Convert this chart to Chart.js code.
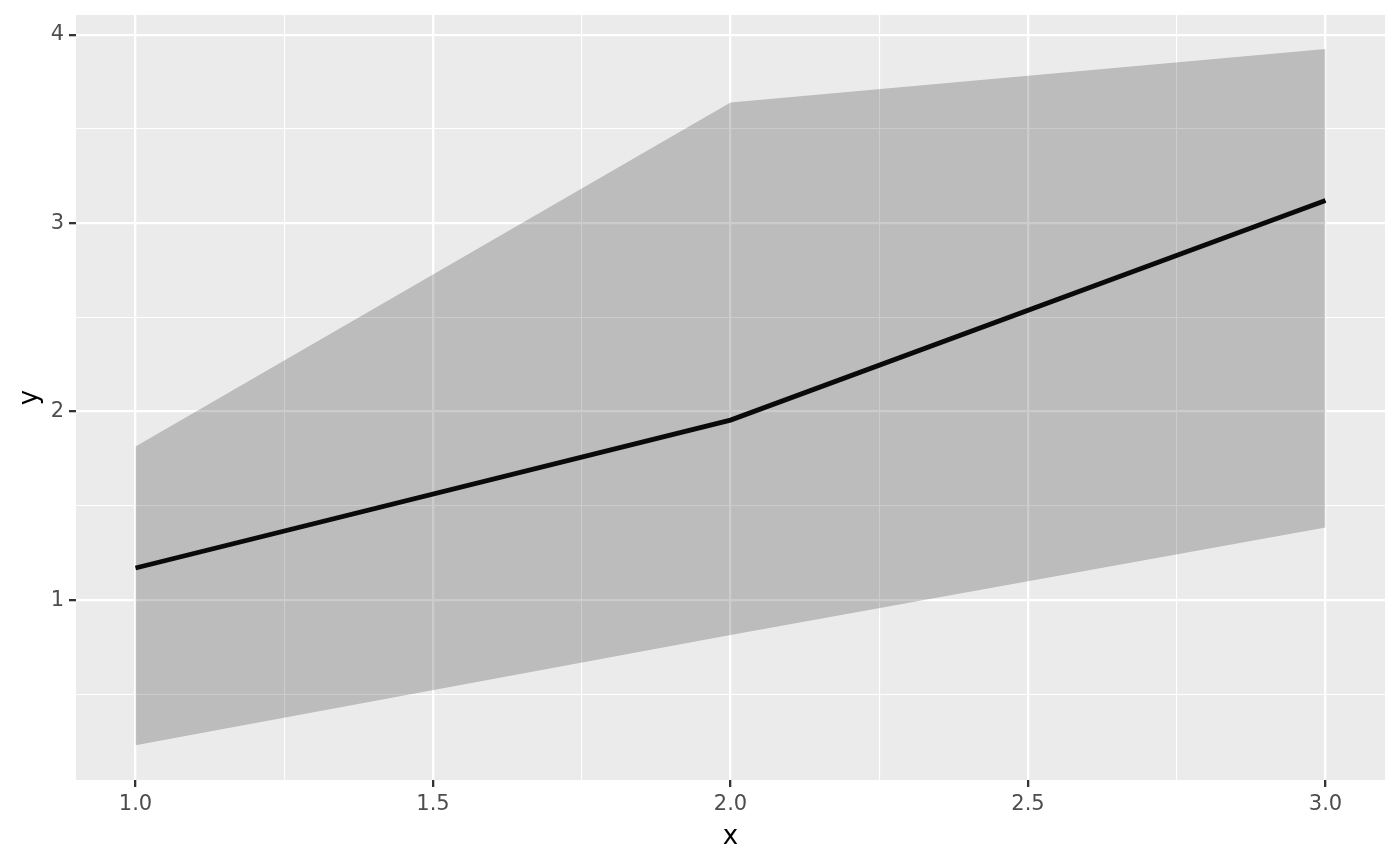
<!DOCTYPE html>
<html>
<head>
<meta charset="utf-8">
<script src="https://cdn.jsdelivr.net/npm/chart.js@4/dist/chart.umd.min.js"></script>
<style>
  html, body { margin: 0; padding: 0; background: #ffffff; }
  #wrap { width: 1400px; height: 866px; }
</style>
</head>
<body>
<div id="wrap"><canvas id="ribbonChart" width="1400" height="866"></canvas></div>
<script>
// values
const xValues = [1, 2, 3];
const yLine = [1.17, 1.955, 3.12];
const yUpper = [1.815, 3.64, 3.925];
const yLower = [0.23, 0.815, 1.385];

const xMajorTicks = [1.0, 1.5, 2.0, 2.5, 3.0];
const xMinorTicks = [1.25, 1.75, 2.25, 2.75];
const yMajorTicks = [1, 2, 3, 4];
const yMinorTicks = [0.5, 1.5, 2.5, 3.5];

const toPoints = ys => xValues.map((x, i) => ({ x: x, y: ys[i] }));
const isIn = (list, v) => list.some(t => Math.abs(t - v) < 1e-9);

// grey panel behind the grid, like ggplot's theme_grey
const panelBackground = {
  id: 'panelBackground',
  beforeDraw(chart) {
    const { ctx, chartArea } = chart;
    ctx.save();
    ctx.fillStyle = '#EBEBEB';
    ctx.fillRect(chartArea.left, chartArea.top, chartArea.right - chartArea.left, chartArea.bottom - chartArea.top);
    ctx.restore();
  }
};

function axisOptions(major, minor, fmt, titleText, fitSize, titlePad) {
  return {
    type: 'linear',
    afterBuildTicks: axis => {
      axis.ticks = major.concat(minor).sort((a, b) => a - b).map(v => ({ value: v }));
    },
    afterFit: axis => {
      if (axis.isHorizontal()) {
        axis.height = fitSize;
        axis.paddingLeft = 0;
        axis.paddingRight = 0;
      } else {
        axis.width = fitSize;
        axis.paddingTop = 0;
        axis.paddingBottom = 0;
      }
    },
    border: { display: false },
    grid: {
      color: '#FFFFFF',
      lineWidth: ctx => isIn(major, ctx.tick.value) ? 2.3 : 1.1,
      drawTicks: true,
      tickLength: 7,
      tickWidth: 2.3,
      tickColor: ctx => isIn(major, ctx.tick.value) ? '#333333' : 'rgba(0,0,0,0)'
    },
    ticks: {
      autoSkip: false,
      maxRotation: 0,
      color: '#4D4D4D',
      font: { family: 'DejaVu Sans', size: 21 },
      padding: 5,
      callback: v => isIn(major, v) ? fmt(v) : ''
    },
    title: {
      display: true,
      text: titleText,
      color: '#000000',
      font: { family: 'DejaVu Sans', size: 26 },
      padding: titlePad
    }
  };
}

const xScale = axisOptions(xMajorTicks, xMinorTicks, v => v.toFixed(1), 'x', 86, { top: 0, bottom: 13 });
xScale.min = 0.9;
xScale.max = 3.1;

const yScale = axisOptions(yMajorTicks, yMinorTicks, v => String(v), 'y', 76, { top: 15, bottom: 0 });
yScale.min = 0.045;
yScale.max = 4.105;

new Chart(document.getElementById('ribbonChart').getContext('2d'), {
  type: 'line',
  data: {
    datasets: [
      {
        label: 'lower',
        data: toPoints(yLower),
        borderWidth: 0,
        borderColor: 'rgba(0,0,0,0)',
        pointRadius: 0,
        fill: false,
        order: 2
      },
      {
        label: 'upper',
        data: toPoints(yUpper),
        borderWidth: 0,
        borderColor: 'rgba(0,0,0,0)',
        backgroundColor: 'rgba(0,0,0,0.2)',
        pointRadius: 0,
        fill: '-1',
        order: 1
      },
      {
        label: 'y',
        data: toPoints(yLine),
        borderColor: '#0A0A0A',
        borderWidth: 4.8,
        pointRadius: 0,
        fill: false,
        tension: 0,
        order: 0
      }
    ]
  },
  options: {
    responsive: false,
    animation: false,
    devicePixelRatio: 1,
    layout: { padding: { top: 15, right: 15, left: 0, bottom: 0 } },
    scales: { x: xScale, y: yScale },
    plugins: {
      legend: { display: false },
      tooltip: { enabled: false }
    }
  },
  plugins: [panelBackground]
});
</script>
</body>
</html>
